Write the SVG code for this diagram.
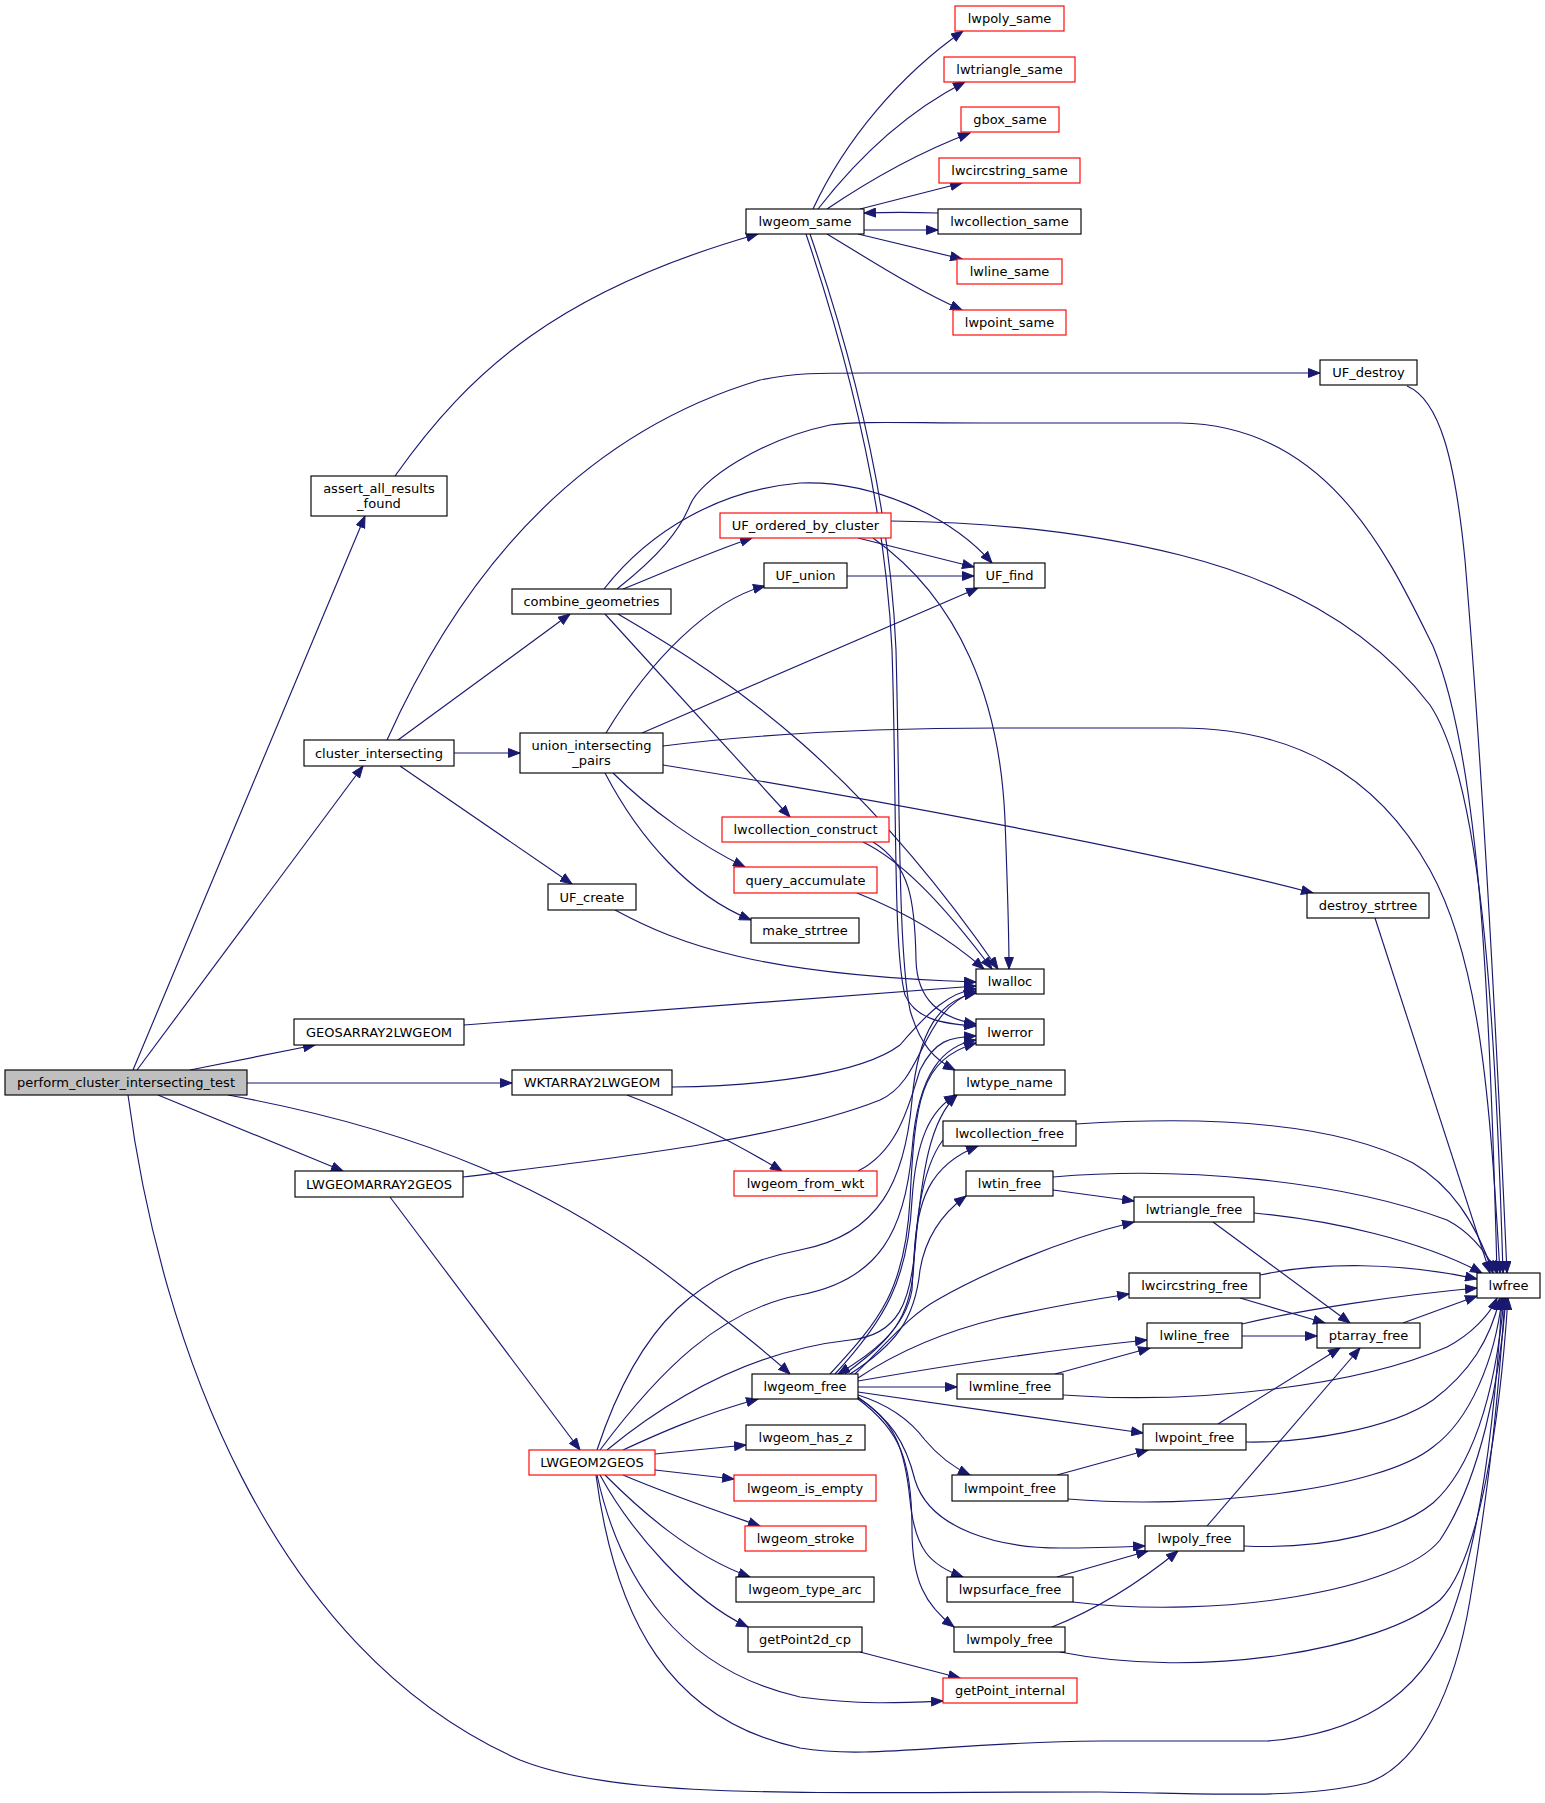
<svg xmlns="http://www.w3.org/2000/svg" width="1545" height="1803" viewBox="0 0 1545 1803">
<style>
.n rect{fill:#fff;stroke:#000;stroke-width:1.15}
.r rect{stroke:#f00}
.g rect{fill:#bfbfbf}
text{font-family:"DejaVu Sans",sans-serif;font-size:13px;text-anchor:middle;fill:#000}
.e path{fill:none;stroke:#191970;stroke-width:1.15;marker-end:url(#ah)}
</style>
<defs>
<marker id="ah" markerUnits="userSpaceOnUse" markerWidth="13" markerHeight="10" refX="12" refY="5" orient="auto" viewBox="0 0 13 10"><path d="M0.5,0.6 L12,5 L0.5,9.4 z" fill="#191970" stroke="#191970" stroke-width="1"/></marker>
</defs>
<rect width="1545" height="1803" fill="#fff"/>
<g id="edges" class="e">
<path d="M133,1070 L365,516"/>
<path d="M137,1070 L363,766"/>
<path d="M190,1070 L315,1045"/>
<path d="M247,1083 L512,1083"/>
<path d="M158,1095 L343,1171"/>
<path d="M228,1095 C420,1130 560,1190 680,1285 C720,1316 760,1346 790,1374"/>
<path d="M128,1095 C160,1340 270,1650 520,1760 C620,1800 800,1792 1100,1792 C1200,1793 1300,1800 1367,1783 C1420,1765 1455,1690 1470,1600 C1490,1480 1498,1400 1505,1298"/>
<path d="M395,476 C470,370 560,290 758,234"/>
<path d="M813,209 C845,140 900,75 963,31"/>
<path d="M818,209 C860,155 910,110 965,82"/>
<path d="M827,209 C870,180 920,152 970,133"/>
<path d="M860,209 L962,183"/>
<path d="M864,230 L938,230"/>
<path d="M938,213 C910,212 890,212 864,213"/>
<path d="M858,234 L962,259"/>
<path d="M827,234 C870,260 920,292 962,310"/>
<path d="M806,234 C845,350 885,500 892,650 C897,800 893,950 905,995 C915,1018 940,1024 976,1026"/>
<path d="M810,234 C850,350 890,500 896,650 C900,800 898,950 910,1010 C920,1045 935,1060 955,1070"/>
<path d="M387,740 C450,600 560,440 760,380 C800,372 820,373 900,373 L1320,373"/>
<path d="M398,740 L570,614"/>
<path d="M454,753 L520,753"/>
<path d="M400,766 L572,884"/>
<path d="M617,589 C660,555 680,530 690,505 C700,480 760,440 830,425 C860,421 900,423 983,423 L1180,423 C1330,425 1390,560 1433,646 C1480,760 1490,1000 1497,1273"/>
<path d="M604,589 C650,530 720,490 800,483 C870,480 950,515 992,563"/>
<path d="M623,589 C670,570 710,552 752,538"/>
<path d="M605,614 L790,817"/>
<path d="M618,614 C740,685 860,770 998,969"/>
<path d="M606,733 C650,660 710,600 765,586"/>
<path d="M642,733 L978,588"/>
<path d="M663,746 C750,735 850,728 1000,728 L1180,728 C1300,728 1380,780 1430,870 C1480,960 1490,1100 1500,1273"/>
<path d="M663,765 C850,795 1150,850 1313,893"/>
<path d="M613,773 C650,810 700,845 745,867"/>
<path d="M605,773 C640,840 690,895 751,920"/>
<path d="M858,538 L974,567"/>
<path d="M891,521 C1000,522 1100,535 1180,555 C1300,585 1380,640 1430,705 C1480,780 1495,1000 1503,1273"/>
<path d="M873,538 C960,600 1000,700 1005,820 C1008,900 1009,940 1009,969"/>
<path d="M847,576 L974,576"/>
<path d="M615,910 C680,945 760,975 976,982"/>
<path d="M1407,386 C1440,400 1455,460 1465,560 C1480,740 1495,1000 1507,1273"/>
<path d="M1375,918 L1490,1273"/>
<path d="M863,842 C900,860 940,900 992,969"/>
<path d="M873,842 C910,865 915,900 916,960 C917,1000 940,1018 976,1024"/>
<path d="M857,893 C900,910 945,935 984,969"/>
<path d="M464,1025 L976,986"/>
<path d="M672,1087 C760,1086 860,1075 900,1045 C930,1010 950,992 976,989"/>
<path d="M627,1095 C680,1115 730,1140 782,1171"/>
<path d="M463,1177 C600,1160 780,1140 880,1100 C925,1080 920,1010 976,991"/>
<path d="M390,1197 L580,1450"/>
<path d="M858,1171 C900,1150 910,1100 920,1070 C935,1040 950,1037 976,1036"/>
<path d="M623,1450 C660,1433 700,1415 758,1399"/>
<path d="M597,1450 C640,1320 700,1270 800,1250 C880,1235 905,1180 912,1100 C918,1030 940,1000 976,993"/>
<path d="M600,1450 C660,1370 720,1310 800,1295 C880,1280 905,1230 912,1150 C918,1070 945,1045 976,1040"/>
<path d="M607,1450 C680,1390 760,1350 850,1340 C900,1335 910,1300 915,1250 C922,1170 930,1120 957,1095"/>
<path d="M655,1454 L746,1445"/>
<path d="M655,1470 L734,1479"/>
<path d="M623,1475 C670,1495 720,1512 760,1526"/>
<path d="M605,1475 C640,1510 690,1555 750,1577"/>
<path d="M600,1475 C630,1530 690,1600 748,1627"/>
<path d="M597,1475 C620,1580 680,1670 800,1697 C860,1705 900,1703 943,1701"/>
<path d="M596,1475 C615,1620 670,1720 800,1748 C870,1760 950,1742 1100,1741 L1267,1741 C1350,1735 1420,1700 1450,1620 C1480,1540 1495,1420 1502,1298"/>
<path d="M860,1652 L960,1678"/>
<path d="M830,1374 C880,1320 905,1290 910,1200 C915,1100 920,1060 976,1043"/>
<path d="M835,1374 C885,1320 908,1280 912,1200 C916,1140 930,1110 956,1095"/>
<path d="M845,1374 C890,1340 912,1320 914,1260 C916,1200 930,1165 978,1146"/>
<path d="M943,1140 C920,1170 915,1230 912,1290 C905,1330 870,1355 838,1374"/>
<path d="M850,1374 C895,1345 915,1320 920,1270 C925,1240 940,1215 966,1196"/>
<path d="M855,1374 C890,1340 910,1315 937,1300 C980,1275 1060,1240 1134,1222"/>
<path d="M858,1378 C900,1350 950,1330 1000,1318 C1050,1307 1090,1300 1129,1294"/>
<path d="M858,1381 C950,1365 1050,1350 1147,1340"/>
<path d="M858,1387 L957,1387"/>
<path d="M858,1392 C950,1405 1050,1420 1143,1433"/>
<path d="M858,1395 C890,1405 910,1420 925,1440 C940,1458 955,1468 970,1475"/>
<path d="M858,1397 C890,1420 905,1440 915,1480 C930,1530 1000,1548 1060,1548 C1090,1548 1120,1547 1145,1546"/>
<path d="M858,1398 C895,1420 905,1450 910,1500 C915,1550 930,1565 963,1577"/>
<path d="M858,1399 C900,1430 912,1460 912,1530 C912,1580 925,1605 954,1627"/>
<path d="M1076,1124 C1200,1116 1330,1120 1413,1163 C1450,1185 1475,1220 1493,1273"/>
<path d="M1053,1177 C1180,1166 1340,1180 1447,1220 C1470,1232 1485,1250 1497,1273"/>
<path d="M1053,1190 L1134,1201"/>
<path d="M1254,1213 C1330,1220 1420,1240 1482,1273"/>
<path d="M1213,1222 L1350,1323"/>
<path d="M1260,1275 C1320,1262 1400,1262 1477,1279"/>
<path d="M1240,1298 L1325,1323"/>
<path d="M1242,1336 L1317,1336"/>
<path d="M1242,1324 C1300,1310 1400,1295 1477,1288"/>
<path d="M1403,1323 L1477,1296"/>
<path d="M1055,1374 L1150,1348"/>
<path d="M1063,1395 C1200,1405 1360,1385 1447,1347 C1470,1335 1490,1315 1497,1298"/>
<path d="M1218,1424 L1340,1348"/>
<path d="M1246,1442 C1300,1443 1390,1430 1433,1400 C1470,1372 1490,1340 1500,1298"/>
<path d="M1057,1475 L1148,1450"/>
<path d="M1068,1499 C1200,1510 1380,1490 1433,1447 C1470,1420 1495,1360 1502,1298"/>
<path d="M1207,1526 L1360,1348"/>
<path d="M1244,1546 C1330,1550 1400,1530 1433,1503 C1470,1470 1495,1400 1504,1298"/>
<path d="M1057,1577 L1148,1551"/>
<path d="M1073,1602 C1220,1620 1400,1590 1440,1540 C1480,1480 1500,1380 1506,1298"/>
<path d="M1052,1627 C1090,1612 1130,1590 1178,1551"/>
<path d="M1060,1652 C1200,1680 1380,1650 1440,1600 C1480,1560 1500,1420 1508,1298"/>
</g>
<g id="n_perform" class="n g"><rect x="5" y="1070" width="242" height="25"/><text x="126" y="1087">perform_cluster_intersecting_test</text></g>
<g id="n_assert" class="n"><rect x="311" y="476" width="136" height="40"/><text x="379" y="493">assert_all_results</text><text x="379" y="508">_found</text></g>
<g id="n_lwgeom_same" class="n"><rect x="746" y="209" width="118" height="25"/><text x="805" y="226">lwgeom_same</text></g>
<g id="n_lwpoly_same" class="n r"><rect x="955" y="6" width="109" height="25"/><text x="1009.5" y="23">lwpoly_same</text></g>
<g id="n_lwtriangle_same" class="n r"><rect x="944" y="57" width="131" height="25"/><text x="1009.5" y="74">lwtriangle_same</text></g>
<g id="n_gbox_same" class="n r"><rect x="961" y="107" width="98" height="25"/><text x="1010" y="124">gbox_same</text></g>
<g id="n_lwcircstring_same" class="n r"><rect x="939" y="158" width="141" height="25"/><text x="1009.5" y="175">lwcircstring_same</text></g>
<g id="n_lwcollection_same" class="n"><rect x="938" y="209" width="143" height="25"/><text x="1009.5" y="226">lwcollection_same</text></g>
<g id="n_lwline_same" class="n r"><rect x="957" y="259" width="105" height="25"/><text x="1009.5" y="276">lwline_same</text></g>
<g id="n_lwpoint_same" class="n r"><rect x="953" y="310" width="113" height="25"/><text x="1009.5" y="327">lwpoint_same</text></g>
<g id="n_UF_destroy" class="n"><rect x="1320" y="360" width="97" height="25"/><text x="1368.5" y="377">UF_destroy</text></g>
<g id="n_cluster_intersecting" class="n"><rect x="304" y="740" width="150" height="26"/><text x="379" y="757.5">cluster_intersecting</text></g>
<g id="n_combine_geometries" class="n"><rect x="512" y="589" width="159" height="25"/><text x="591.5" y="606">combine_geometries</text></g>
<g id="n_union_intersecting_pairs" class="n"><rect x="520" y="733" width="143" height="40"/><text x="591.5" y="750">union_intersecting</text><text x="591.5" y="765">_pairs</text></g>
<g id="n_UF_ordered_by_cluster" class="n r"><rect x="720" y="513" width="171" height="25"/><text x="805.5" y="530">UF_ordered_by_cluster</text></g>
<g id="n_UF_union" class="n"><rect x="764" y="563" width="83" height="25"/><text x="805.5" y="580">UF_union</text></g>
<g id="n_UF_find" class="n"><rect x="974" y="563" width="71" height="25"/><text x="1009.5" y="580">UF_find</text></g>
<g id="n_lwcollection_construct" class="n r"><rect x="722" y="817" width="167" height="25"/><text x="805.5" y="834">lwcollection_construct</text></g>
<g id="n_query_accumulate" class="n r"><rect x="734" y="867" width="143" height="26"/><text x="805.5" y="884.5">query_accumulate</text></g>
<g id="n_make_strtree" class="n"><rect x="751" y="918" width="108" height="25"/><text x="805" y="935">make_strtree</text></g>
<g id="n_UF_create" class="n"><rect x="548" y="884" width="88" height="26"/><text x="592" y="901.5">UF_create</text></g>
<g id="n_destroy_strtree" class="n"><rect x="1307" y="893" width="122" height="25"/><text x="1368" y="910">destroy_strtree</text></g>
<g id="n_lwalloc" class="n"><rect x="976" y="969" width="68" height="25"/><text x="1010" y="986">lwalloc</text></g>
<g id="n_lwerror" class="n"><rect x="976" y="1019" width="68" height="26"/><text x="1010" y="1036.5">lwerror</text></g>
<g id="n_lwtype_name" class="n"><rect x="954" y="1070" width="111" height="25"/><text x="1009.5" y="1087">lwtype_name</text></g>
<g id="n_GEOSARRAY2LWGEOM" class="n"><rect x="294" y="1019" width="170" height="26"/><text x="379" y="1036.5">GEOSARRAY2LWGEOM</text></g>
<g id="n_WKTARRAY2LWGEOM" class="n"><rect x="512" y="1070" width="160" height="25"/><text x="592" y="1087">WKTARRAY2LWGEOM</text></g>
<g id="n_lwcollection_free" class="n"><rect x="943" y="1121" width="133" height="25"/><text x="1009.5" y="1138">lwcollection_free</text></g>
<g id="n_LWGEOMARRAY2GEOS" class="n"><rect x="295" y="1171" width="168" height="26"/><text x="379" y="1188.5">LWGEOMARRAY2GEOS</text></g>
<g id="n_lwgeom_from_wkt" class="n r"><rect x="734" y="1171" width="143" height="25"/><text x="805.5" y="1188">lwgeom_from_wkt</text></g>
<g id="n_lwtin_free" class="n"><rect x="966" y="1171" width="87" height="25"/><text x="1009.5" y="1188">lwtin_free</text></g>
<g id="n_lwtriangle_free" class="n"><rect x="1134" y="1197" width="120" height="25"/><text x="1194" y="1214">lwtriangle_free</text></g>
<g id="n_lwcircstring_free" class="n"><rect x="1129" y="1273" width="131" height="25"/><text x="1194.5" y="1290">lwcircstring_free</text></g>
<g id="n_lwfree" class="n"><rect x="1477" y="1273" width="63" height="25"/><text x="1508.5" y="1290">lwfree</text></g>
<g id="n_lwline_free" class="n"><rect x="1147" y="1323" width="95" height="25"/><text x="1194.5" y="1340">lwline_free</text></g>
<g id="n_ptarray_free" class="n"><rect x="1317" y="1323" width="103" height="25"/><text x="1368.5" y="1340">ptarray_free</text></g>
<g id="n_lwgeom_free" class="n"><rect x="752" y="1374" width="106" height="25"/><text x="805" y="1391">lwgeom_free</text></g>
<g id="n_lwmline_free" class="n"><rect x="957" y="1374" width="106" height="25"/><text x="1010" y="1391">lwmline_free</text></g>
<g id="n_lwgeom_has_z" class="n"><rect x="746" y="1425" width="119" height="25"/><text x="805.5" y="1442">lwgeom_has_z</text></g>
<g id="n_lwpoint_free" class="n"><rect x="1143" y="1424" width="103" height="26"/><text x="1194.5" y="1441.5">lwpoint_free</text></g>
<g id="n_LWGEOM2GEOS" class="n r"><rect x="529" y="1450" width="126" height="25"/><text x="592" y="1467">LWGEOM2GEOS</text></g>
<g id="n_lwgeom_is_empty" class="n r"><rect x="734" y="1475" width="142" height="26"/><text x="805" y="1492.5">lwgeom_is_empty</text></g>
<g id="n_lwmpoint_free" class="n"><rect x="952" y="1475" width="116" height="26"/><text x="1010" y="1492.5">lwmpoint_free</text></g>
<g id="n_lwgeom_stroke" class="n r"><rect x="745" y="1526" width="121" height="25"/><text x="805.5" y="1543">lwgeom_stroke</text></g>
<g id="n_lwpoly_free" class="n"><rect x="1145" y="1526" width="99" height="25"/><text x="1194.5" y="1543">lwpoly_free</text></g>
<g id="n_lwgeom_type_arc" class="n"><rect x="736" y="1577" width="138" height="25"/><text x="805" y="1594">lwgeom_type_arc</text></g>
<g id="n_lwpsurface_free" class="n"><rect x="947" y="1577" width="126" height="25"/><text x="1010" y="1594">lwpsurface_free</text></g>
<g id="n_getPoint2d_cp" class="n"><rect x="748" y="1627" width="114" height="25"/><text x="805" y="1644">getPoint2d_cp</text></g>
<g id="n_lwmpoly_free" class="n"><rect x="954" y="1627" width="111" height="25"/><text x="1009.5" y="1644">lwmpoly_free</text></g>
<g id="n_getPoint_internal" class="n r"><rect x="943" y="1678" width="134" height="25"/><text x="1010" y="1695">getPoint_internal</text></g>
</svg>
